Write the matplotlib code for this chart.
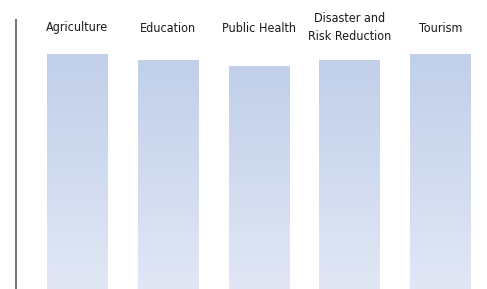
import matplotlib
matplotlib.use("Agg")
import matplotlib.pyplot as plt
import numpy as np
from matplotlib import font_manager

categories = ["Agriculture", "Education", "Public Health", "Disaster and\nRisk Reduction", "Tourism"]
values = [235, 229, 223, 229, 235]

W, H = 487, 289
fig = plt.figure(figsize=(W / 100, H / 100), dpi=100)
left_px, top_px = 16, 20
ax = fig.add_axes([left_px / W, 0, 1 - left_px / W, (H - top_px) / H])

cands = [f for f in font_manager.fontManager.ttflist
         if ("Narrow" in f.fname or "Condensed" in f.fname) and "Bold" not in f.fname
         and "Oblique" not in f.fname and "Italic" not in f.fname]
fp = font_manager.FontProperties(fname=cands[0].fname) if cands else font_manager.FontProperties(family="DejaVu Sans")

x = np.arange(len(categories))
bars = ax.bar(x, values, width=0.67, color="none", edgecolor="none")
ax.set_xlim(-0.676, 4.51)
ax.set_ylim(0, 269)

grad = np.linspace(0, 1, 256).reshape(-1, 1)
top_c = np.array([193, 207, 233]) / 255
bot_c = np.array([225, 231, 245]) / 255
img = (top_c[None, None, :] * (1 - grad[:, :, None]) + bot_c[None, None, :] * grad[:, :, None])
for b in bars:
    x0, w, h = b.get_x(), b.get_width(), b.get_height()
    im = ax.imshow(img, extent=[x0, x0 + w, 0, h], aspect="auto", origin="upper", zorder=2)
    im.set_clip_path(b)

for i, c in enumerate(categories):
    ax.text(i, 1 - 8 / 269, c, transform=ax.get_xaxis_transform(), ha="center", va="center",
            fontproperties=fp, fontsize=9, color="#1a1a1a", linespacing=1.5, clip_on=False)

for s in ["top", "right", "bottom"]:
    ax.spines[s].set_visible(False)
ax.spines["left"].set_color("#7a7a7a")
ax.spines["left"].set_linewidth(1.5)
ax.set_xticks([])
ax.set_yticks([])
ax.patch.set_alpha(0)

fig.savefig("out.png", dpi=100)
